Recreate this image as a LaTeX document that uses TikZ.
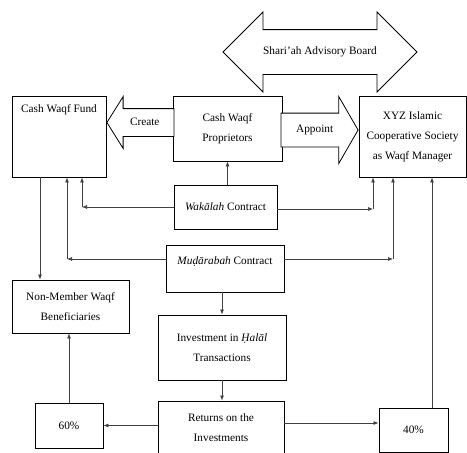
\documentclass[tikz,border=0pt]{standalone}
\usepackage{fontspec}
\setmainfont{Liberation Serif}
\usepackage{tikz}
\usetikzlibrary{shapes.arrows,arrows.meta}
\tikzstyle{box} = [rectangle, draw=black, line width=0.9pt, fill=white, text centered, align=center, inner sep=2pt]
\tikzstyle{bigarrow} = [draw=black, line width=0.8pt, fill=white, text height=7pt, text depth=2pt, inner xsep=2pt]
\tikzstyle{arrow} = [line width=0.7pt, draw=black!75, -{Latex[length=5pt,width=4pt]}]

\begin{document}
\begin{tikzpicture}[x=1pt, y=-1pt, font=\fontsize{11.3}{20}\selectfont]
\useasboundingbox (0,0) rectangle (467,453);
\clip (0,0) rectangle (467,453);

\node (board) [bigarrow, double arrow, inner ysep=17.5pt, double arrow head extend=17.5pt, double arrow tip angle=90, minimum height=194pt] at (320,52) {Shari’ah Advisory Board};

\node (fund) [box, minimum width=94pt, text height=12pt, text depth=61pt, inner ysep=4pt] at (59,136.5) {Cash Waqf Fund};
\node (prop) [box, minimum width=109pt, minimum height=65pt] at (227.5,128.5) {Cash Waqf\\Proprietors};
\node (xyz) [box, minimum width=107pt, minimum height=81pt] at (412.5,136.5) {XYZ Islamic\\Cooperative Society\\as Waqf Manager};
\node (wak) [box, minimum width=103pt, minimum height=44pt] at (225.5,207) {\textit{Wakālah} Contract};
\node (mud) [box, minimum width=118pt, text height=15pt, text depth=24pt, inner ysep=4pt] at (225,268.5) {\textit{Muḍārabah} Contract};
\node (nonm) [box, minimum width=117pt, minimum height=53pt] at (70.5,306.5) {Non-Member Waqf\\Beneficiaries};
\node (inv) [box, minimum width=128pt, minimum height=65pt] at (222,347.5) {Investment in \textit{Ḥalāl}\\Transactions};
\node (ret) [box, minimum width=126pt, minimum height=54pt] at (221,428) {Returns on the\\Investments};
\node (p60) [box, minimum width=68pt, minimum height=45pt] at (69,425.5) {60\%};
\node (p40) [box, minimum width=69pt, minimum height=44pt] at (413.5,430) {40\%};

\node (create) [bigarrow, single arrow, shape border rotate=180, anchor=tip, inner ysep=9pt, single arrow head extend=12pt, single arrow tip angle=116, minimum height=67pt] at ([yshift=14pt]fund.east) {Create};
\node (appoint) [bigarrow, single arrow, anchor=tip, inner ysep=12pt, single arrow head extend=16.5pt, single arrow tip angle=120, minimum height=77pt] at ([yshift=6.5pt]xyz.west) {Appoint};

\coordinate (wakL) at (82,207);
\coordinate (wakR) at (373,209);
\coordinate (mudL) at (67,259);
\coordinate (mudR) at (393,259);
\coordinate (fundO) at (40,177);
\coordinate (p40O) at (432,408);

\draw [arrow] (prop.south |- wak.north) -- (prop.south);
\draw [arrow] (wakL -| wak.west) -- (wakL);
\draw [arrow] (wakL) -- (wakL |- fund.south);
\draw [arrow] (wakR -| wak.east) -- (wakR);
\draw [arrow] (wakR) -- (wakR |- xyz.south);
\draw [arrow] (mudL -| mud.west) -- (mudL);
\draw [arrow] (mudL) -- (mudL |- fund.south);
\draw [arrow] (mudR -| mud.east) -- (mudR);
\draw [arrow] (mudR) -- (mudR |- xyz.south);
\draw [arrow] (fundO) -- (fundO |- nonm.north);
\draw [arrow] (inv.north |- mud.south) -- (inv.north);
\draw [arrow] (inv.south) -- (inv.south |- ret.north);
\draw [arrow] (ret.west |- p60.east) -- (p60.east);
\draw [arrow] ([yshift=5pt]ret.east) -- ([yshift=5pt]ret.east -| p40.west);
\draw [arrow] (p60.north) -- (p60.north |- nonm.south);
\draw [arrow] (p40O) -- (p40O |- xyz.south);

\end{tikzpicture}
\end{document}
